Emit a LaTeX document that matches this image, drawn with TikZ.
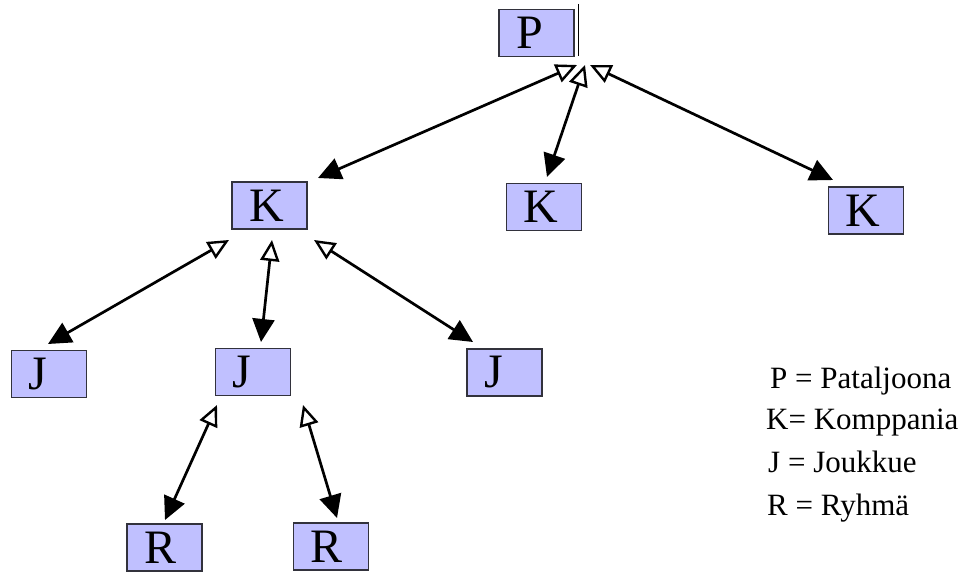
\documentclass[tikz,border=0pt]{standalone}
\usepackage{fontspec}
\setmainfont{Liberation Serif}
\usetikzlibrary{arrows.meta}
\definecolor{boxfill}{RGB}{192,192,255}
\definecolor{boxline}{RGB}{50,50,60}

\begin{document}
\begin{tikzpicture}[x=1pt, y=-1pt, box/.style={draw=boxline, fill=boxfill, line width=1.2pt, minimum height=47pt, text width=41pt, align=left, inner xsep=17pt, inner ysep=0pt, font=\fontsize{48}{48}\selectfont}, legend/.style={anchor=base west, inner sep=0pt, font=\fontsize{31}{31}\selectfont}, l/.style={{Triangle[open, length=21pt, width=19pt, line width=2.4pt]}-{Triangle[length=23pt, width=22pt]}, line width=2.7pt}]
            \useasboundingbox (0,0) rectangle (964,572);
            % nodes
            \node[box] (P) at (536.5,33) {P};
            \node[box] (K1) at (269.5,205.5) {K};
            \node[box] (K2) at (544,207) {K};
            \node[box] (K3) at (866,210.5) {K};
            \node[box] (J1) at (49,374) {J};
            \node[box] (J2) at (253,372) {J};
            \node[box] (J3) at (504.5,372.5) {J};
            \node[box] (R1) at (164.5,547.5) {R};
            \node[box] (R2) at (331,546.5) {R};
            \draw[line width=1.2pt] ([shift={(4,-5)}]P.north east) -- ([shift={(4,-1)}]P.south east);
            % legend
            \node[legend] (lp) at (770,388) {P = Pataljoona};
            \node[legend] (lk) at (766,429) {K= Komppania};
            \node[legend] (lj) at (768,472) {J = Joukkue};
            \node[legend] (lr) at (767,515) {R = Ryhmä};
            % edge ends
            \coordinate (pk1) at (577,65);
            \coordinate (pk2) at (585,65);
            \coordinate (pk3) at (590,65);
            \coordinate (k1p) at (318,178);
            \coordinate (k2p) at (547,177);
            \coordinate (k3p) at (833,180);
            \coordinate (kj1) at (229,240);
            \coordinate (kj2) at (272,240);
            \coordinate (kj3) at (314,240);
            \coordinate (j1k) at (48,344);
            \coordinate (j2k) at (261,342);
            \coordinate (j3k) at (473,342);
            \coordinate (jr1) at (217,405);
            \coordinate (jr2) at (303,405);
            \coordinate (r1j) at (165,520);
            \coordinate (r2j) at (337,518);
            % edges
            \draw [l] (pk1) -- (k1p);
            \draw [l] (pk2) -- (k2p);
            \draw [l] (pk3) -- (k3p);
            \draw [l] (kj1) -- (j1k);
            \draw [l] (kj2) -- (j2k);
            \draw [l] (kj3) -- (j3k);
            \draw [l] (jr1) -- (r1j);
            \draw [l] (jr2) -- (r2j);
        \end{tikzpicture}
\end{document}
